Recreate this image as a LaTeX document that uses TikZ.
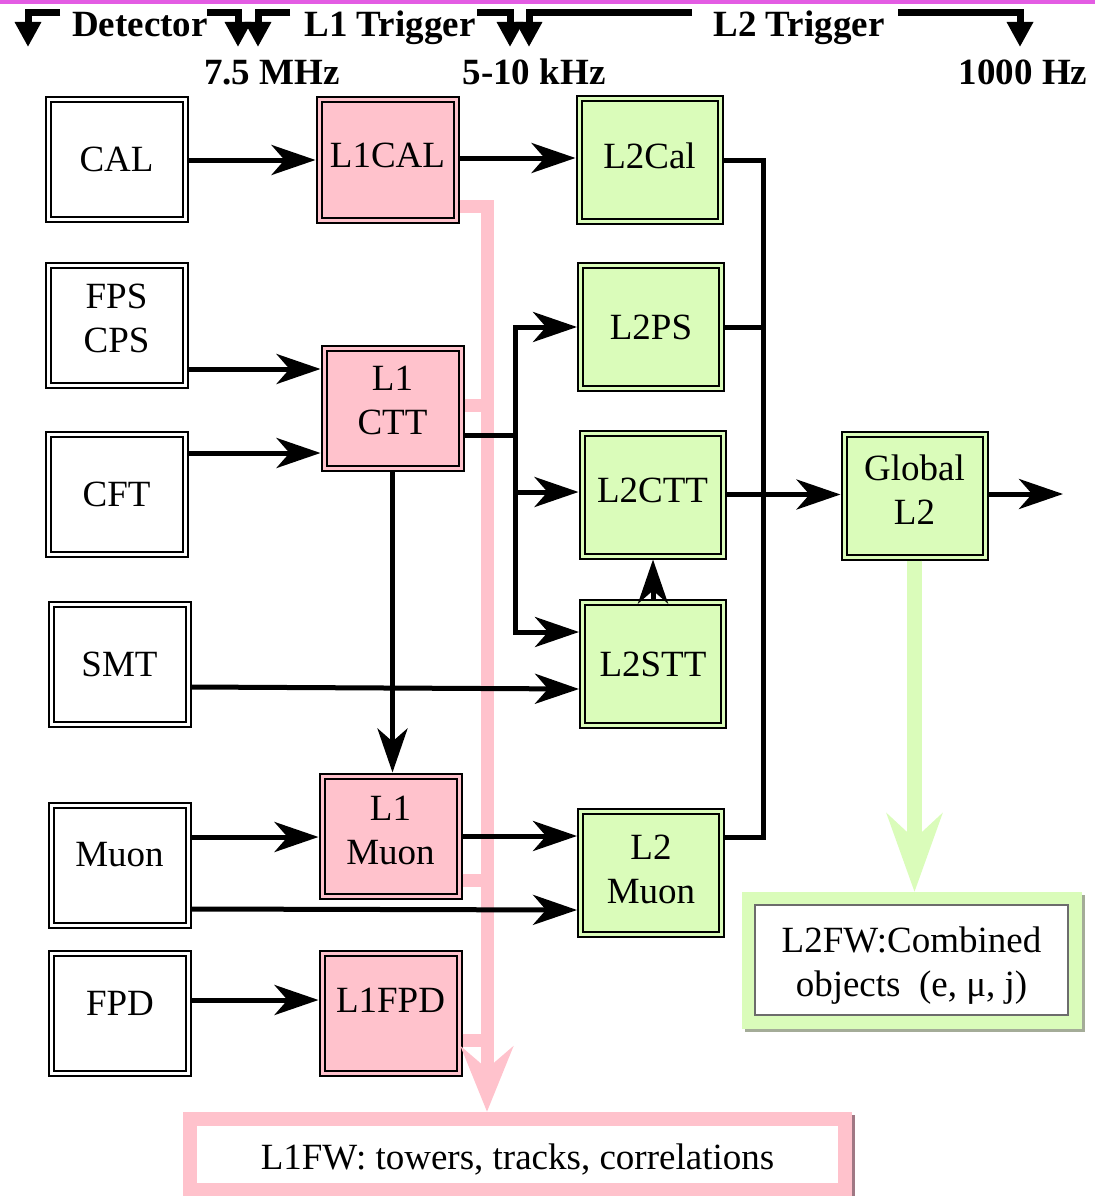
\documentclass[tikz,border=0pt]{standalone}
\usepackage{fontspec}
\setmainfont{Liberation Serif}
\usetikzlibrary{arrows.meta,backgrounds}
\definecolor{pinkfill}{HTML}{FFC2CC}
\definecolor{greenfill}{HTML}{DAFCBA}
\definecolor{topbar}{HTML}{E35CE3}
\definecolor{gshadow}{HTML}{A4AC98}
\definecolor{pshadow}{HTML}{A07884}
\begin{document}
\begin{tikzpicture}[x=1pt,y=-1pt,
  font=\fontsize{37}{44}\selectfont,
  every node/.style={align=center, inner sep=0pt},
  bx/.style={draw=black, line width=2pt, double distance=3pt, minimum width=137pt, minimum height=120pt, outer sep=3.5pt},
  detbox/.style={bx, double=white, fill=white},
  l1box/.style={bx, double=pinkfill, fill=pinkfill},
  l2box/.style={bx, double=greenfill, fill=greenfill, minimum width=141pt, minimum height=123pt},
  raisetxt/.style={text depth=#1},
  ln/.style={line width=5pt, draw=black},
  arr/.style={ln, -{Stealth[length=44pt,width=30pt,inset=13pt]}},
  hdr/.style={line width=7pt, draw=black, -{Triangle[length=25pt,width=25pt]}},
  pinkbus/.style={line width=13pt, draw=pinkfill},
  hdrtext/.style={anchor=base, font=\fontsize{37}{44}\selectfont\bfseries},
]
\useasboundingbox (0,0) rectangle (1095,1196);

% header
\fill[topbar] (0,0) rectangle (1095,4.5);
\node[hdrtext] (hdet) at (140,37) {Detector};
\node[hdrtext] (hl1) at (390,37) {L1 Trigger};
\node[hdrtext] (hl2) at (799,37) {L2 Trigger};
\node[hdrtext] (r1) at (272,85) {7.5 MHz};
\node[hdrtext] (r2) at (534,85) {5-10 kHz};
\node[hdrtext] (r3) at (1023,85) {1000 Hz};
\draw[hdr] (60,13) -| (28,47);
\draw[hdr] (207,13) -| (238,47);
\draw[hdr] (290,13) -| (258,47);
\draw[hdr] (477,13) -| (510,47);
\draw[hdr] (692,13) -| (529,47);
\draw[hdr] (898,13) -| (1020,47);

% detector boxes
\node[detbox] (cal) at (116.5,159.5) {CAL};
\node[detbox, raisetxt=14pt] (fps) at (116.5,325.5) {FPS\\CPS};
\node[detbox] (cft) at (116.5,494.5) {CFT};
\node[detbox] (smt) at (119.5,664.5) {SMT};
\node[detbox, raisetxt=22pt] (muon) at (119.5,865) {Muon};
\node[detbox, raisetxt=20pt] (fpd) at (120,1013) {FPD};
% L1 boxes
\node[l1box, raisetxt=10pt] (l1cal) at (387.5,160) {L1CAL};
\node[l1box, raisetxt=16pt] (l1ctt) at (392.5,408.5) {L1\\CTT};
\node[l1box, raisetxt=12pt] (l1muon) at (390.5,836) {L1\\Muon};
\node[l1box, raisetxt=26pt] (l1fpd) at (390.5,1013) {L1FPD};
% L2 boxes
\node[l2box, raisetxt=8pt] (l2cal) at (649.5,160) {L2Cal};
\node[l2box] (l2ps) at (651,327) {L2PS};
\node[l2box, raisetxt=8pt] (l2ctt) at (652.5,494.5) {L2CTT};
\node[l2box] (l2stt) at (653,664) {L2STT};
\node[l2box, raisetxt=6pt] (l2muon) at (651,872.5) {L2\\Muon};
\node[l2box, raisetxt=12pt] (glob) at (914.5,495.5) {Global\\L2};

% framework boxes
\node[fill=white, draw=gray!85!black, line width=2pt, minimum width=313pt, minimum height=110pt, text height=80pt] (l2fw) at (911.5,960) {L2FW:Combined\\objects~~(e, μ, j)};
\node[fill=white, minimum width=641pt, minimum height=57pt, text height=38pt, text depth=8pt] (l1fw) at (517.5,1154.5) {L1FW: towers, tracks, correlations};
\begin{scope}[on background layer]
\draw[line width=25pt, gshadow] ([shift={(3,3)}]l2fw.north west) rectangle ([shift={(3,3)}]l2fw.south east);
\draw[line width=25pt, greenfill] (l2fw.north west) rectangle (l2fw.south east);
\draw[line width=28pt, pshadow] ([shift={(3,3)}]l1fw.north west) rectangle ([shift={(3,3)}]l1fw.south east);
\draw[line width=28pt, pinkfill] (l1fw.north west) rectangle (l1fw.south east);
\end{scope}

% pink L1 framework bus
\draw[pinkbus, -{Stealth[length=65pt,width=52pt,inset=22pt]}, shorten >=14pt] (l1cal.east |- 0,206) -| (487,0 |- l1fw.north);
\draw[pinkbus] (l1ctt.east |- 0,405) -- (487,405);
\draw[pinkbus] (l1muon.east |- 0,880) -- (487,880);
\draw[pinkbus] (l1fpd.east |- 0,1040) -- (487,1040);

% green L2 framework arrow
\draw[line width=15pt, greenfill, -{Stealth[length=78pt,width=55pt,inset=25pt]}, shorten >=12pt] (glob.south) -- (glob.south |- l2fw.north);

% black connectors
\draw[arr] (cal.east |- 0,160) -- (l1cal.west |- 0,160);
\draw[arr] (fps.east |- 0,369) -- (l1ctt.west |- 0,369);
\draw[arr] (cft.east |- 0,453) -- (l1ctt.west |- 0,453);
\draw[arr] (l1cal.east |- 0,158) -- (l2cal.west |- 0,158);
\coordinate (jct) at (515,435);
\draw[ln] (l1ctt.east |- jct) -- (jct);
\draw[arr] (jct) |- (l2ps.west);
\draw[arr] (jct) |- (l2ctt.west |- 0,492);
\draw[arr] (jct) |- (l2stt.west |- 0,632);
\draw[arr] (l1ctt.south) -- (l1ctt.south |- l1muon.north);
\draw[arr] (smt.east |- 0,687) -- (l2stt.west |- 0,689);
\draw[arr] (muon.east |- 0,837) -- (l1muon.west |- 0,837);
\draw[arr] (muon.east |- 0,909) -- (l2muon.west |- 0,910);
\draw[arr] (l1muon.east |- 0,836) -- (l2muon.west |- 0,836);
\draw[arr] (fpd.east |- 0,1000) -- (l1fpd.west |- 0,1000);
\draw[arr] (l2stt.north) -- (l2stt.north |- l2ctt.south);
\draw[ln] (l2cal.east) -| (763,837) -- (l2muon.east |- 0,837);
\draw[ln] (l2ps.east) -- (763,0 |- l2ps.east);
\draw[arr] (l2ctt.east) -- (glob.west |- l2ctt.east);
\coordinate (out) at (1063,494);
\draw[arr] (glob.east |- out) -- (out);
\end{tikzpicture}
\end{document}
